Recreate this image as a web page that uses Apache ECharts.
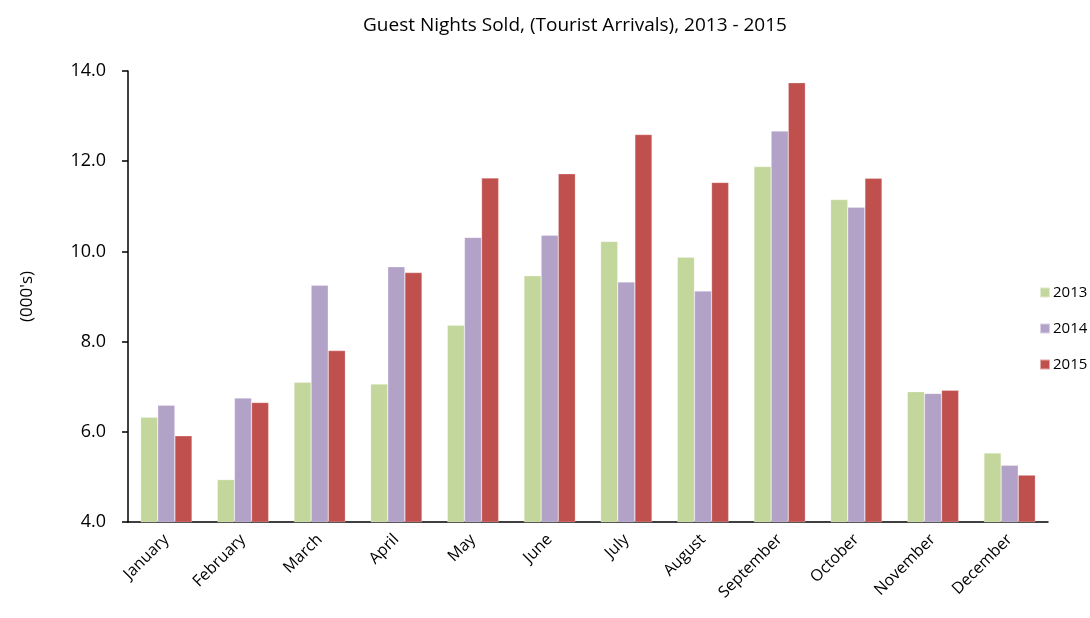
<!DOCTYPE html>
<html>
<head>
<meta charset="utf-8">
<script src="https://cdn.jsdelivr.net/npm/echarts@6/dist/echarts.min.js"></script>
<style>
  html, body { margin: 0; padding: 0; background: #fff; }
  #chart { width: 1090px; height: 618px; }
</style>
</head>
<body>
<div id="chart"></div>
<script>
var months = ['January', 'February', 'March', 'April', 'May', 'June',
              'July', 'August', 'September', 'October', 'November', 'December'];
var years = ['2013', '2014', '2015'];
var values2013 = [6.32, 4.94, 7.10, 7.06, 8.36, 9.46, 10.22, 9.87, 11.88, 11.15, 6.89, 5.53];
var values2014 = [6.59, 6.75, 9.25, 9.66, 10.31, 10.36, 9.32, 9.12, 12.67, 10.98, 6.85, 5.26];
var values2015 = [5.91, 6.65, 7.80, 9.53, 11.63, 11.72, 12.59, 11.53, 13.74, 11.62, 6.92, 5.04];
var yTicks = [4, 6, 8, 10, 12, 14];

var colors = ['#C3D69B', '#B3A2C7', '#C0504D'];
var fontName = 'Open Sans';

//柱状图系列
function makeSeries(name, data) {
    return {
        name: name,
        type: 'bar',
        data: data,
        barGap: '0%',
        barCategoryGap: '33%',
        itemStyle: { borderColor: 'rgba(255,255,255,0.5)', borderWidth: 0.5 }
    };
}

var chart = echarts.init(document.getElementById('chart'));
chart.setOption({
    animation: false,
    color: colors,
    title: {
        text: 'Guest Nights Sold, (Tourist Arrivals), 2013 - 2015',
        left: 570,
        textAlign: 'center',
        top: 11,
        textStyle: { fontFamily: fontName, fontSize: 19, fontWeight: 'normal', color: '#000' }
    },
    legend: {
        orient: 'vertical',
        left: 1039,
        top: 285,
        padding: 0,
        itemWidth: 10,
        itemHeight: 10,
        itemGap: 21,
        icon: 'rect',
        textStyle: { fontFamily: fontName, fontSize: 15, color: '#000', padding: [0, 0, 0, -2] },
        data: years
    },
    grid: { left: 128, right: 42, top: 71, bottom: 96 },
    xAxis: {
        type: 'category',
        data: months,
        axisLine: { lineStyle: { color: '#000', width: 1.5 } },
        axisTick: { lineStyle: { color: '#000', width: 1.5 }, length: 6 },
        axisLabel: { rotate: 45, fontFamily: fontName, fontSize: 16, color: '#000', margin: 15 }
    },
    yAxis: {
        type: 'value',
        min: yTicks[0],
        max: yTicks[yTicks.length - 1],
        interval: 2,
        name: "(000's)",
        nameLocation: 'middle',
        nameGap: 92,
        nameRotate: 90,
        nameTextStyle: { fontFamily: fontName, fontSize: 17, color: '#000' },
        splitLine: { show: false },
        axisLine: { show: true, lineStyle: { color: '#000', width: 1.5 } },
        axisTick: { show: true, lineStyle: { color: '#000', width: 1.5 }, length: 6 },
        axisLabel: {
            fontFamily: fontName, fontSize: 18, color: '#000', margin: 22,
            formatter: function (v) { return v.toFixed(1); }
        }
    },
    series: [
        makeSeries(years[0], values2013),
        makeSeries(years[1], values2014),
        makeSeries(years[2], values2015)
    ]
});
</script>
</body>
</html>
